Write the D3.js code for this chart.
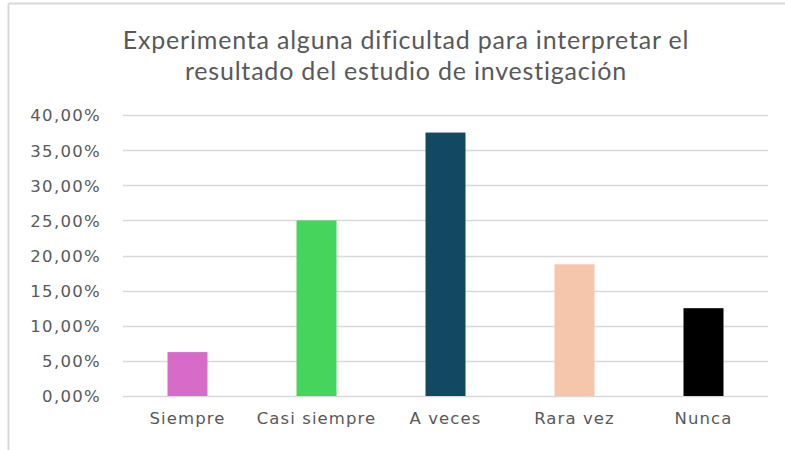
<!DOCTYPE html>
<html>
<head>
<meta charset="utf-8">
<script src="https://cdn.jsdelivr.net/npm/d3@7"></script>
<style>
  body { margin: 0; background: #fff; }
  svg text { fill: #595959; }
</style>
</head>
<body>
<div id="vis"></div>
<script>
// chart data
var categories = ["Siempre", "Casi siempre", "A veces", "Rara vez", "Nunca"];
var values = [0.0625, 0.25, 0.375, 0.1875, 0.125];
var colors = ["#d66cc8", "#47d45c", "#134862", "#f5c6ab", "#000000"];
var yTicks = [0, 0.05, 0.10, 0.15, 0.20, 0.25, 0.30, 0.35, 0.40];
var titleLines = ["Experimenta alguna dificultad para interpretar el", "resultado del estudio de investigación"];

var W = 785, H = 450;
var margin = { top: 115, right: 17, bottom: 54, left: 123 };
var width = W - margin.left - margin.right;
var height = H - margin.top - margin.bottom;

var root = d3.select("#vis").append("svg").attr("width", W).attr("height", H);

// outer frame (only top and left edges show)
root.append("line").attr("x1", 8.5).attr("x2", 8.5).attr("y1", 3.5).attr("y2", H)
  .attr("stroke", "#d9d9d9").attr("stroke-width", 2);
root.append("line").attr("x1", 8.5).attr("x2", W).attr("y1", 3.5).attr("y2", 3.5)
  .attr("stroke", "#d9d9d9").attr("stroke-width", 2);

// title
root.append("g").selectAll("text").data(titleLines).enter().append("text")
  .attr("x", 406).attr("y", (d, i) => 49 + i * 31)
  .attr("text-anchor", "middle")
  .style("font-family", "Lato, sans-serif")
  .style("font-size", "25px")
  .style("letter-spacing", "0.8px")
  .text(d => d);

var svg = root.append("g").attr("transform", `translate(${margin.left}, ${margin.top})`);

var x = d3.scaleBand().domain(categories).range([0, width]).paddingInner(0.69).paddingOuter(0.345);
var y = d3.scaleLinear().domain([0, 0.40]).range([height, 0]);

var fmt = d => d3.format(".2f")(d * 100).replace(".", ",") + "%";

// gridlines
svg.append("g").selectAll("line").data(yTicks).enter().append("line")
  .attr("x1", 0).attr("x2", width)
  .attr("y1", d => Math.round(y(d)) + 0.5).attr("y2", d => Math.round(y(d)) + 0.5)
  .attr("stroke", "#d9d9d9").attr("stroke-width", 1.5);

// y axis labels
var yAxis = svg.append("g").call(d3.axisLeft(y).tickValues(yTicks).tickFormat(fmt).tickSize(0).tickPadding(22));
yAxis.select(".domain").remove();
yAxis.selectAll("text")
  .style("font-family", "'DejaVu Sans', sans-serif")
  .style("font-size", "16.5px").style("letter-spacing", "1.3px")
  .attr("fill", "#595959").attr("dy", "0.36em");

// bars
svg.selectAll("rect").data(values).enter().append("rect")
  .attr("x", (d, i) => x(categories[i]))
  .attr("y", d => y(d))
  .attr("width", x.bandwidth())
  .attr("height", d => height - y(d))
  .attr("fill", (d, i) => colors[i]);

// x axis labels
var xAxis = svg.append("g").attr("transform", `translate(0, ${height})`)
  .call(d3.axisBottom(x).tickSize(0).tickPadding(16));
xAxis.select(".domain").remove();
xAxis.selectAll("text")
  .style("font-family", "'DejaVu Sans', sans-serif")
  .style("font-size", "16.5px").style("letter-spacing", "1.1px")
  .attr("fill", "#595959");
</script>
</body>
</html>
